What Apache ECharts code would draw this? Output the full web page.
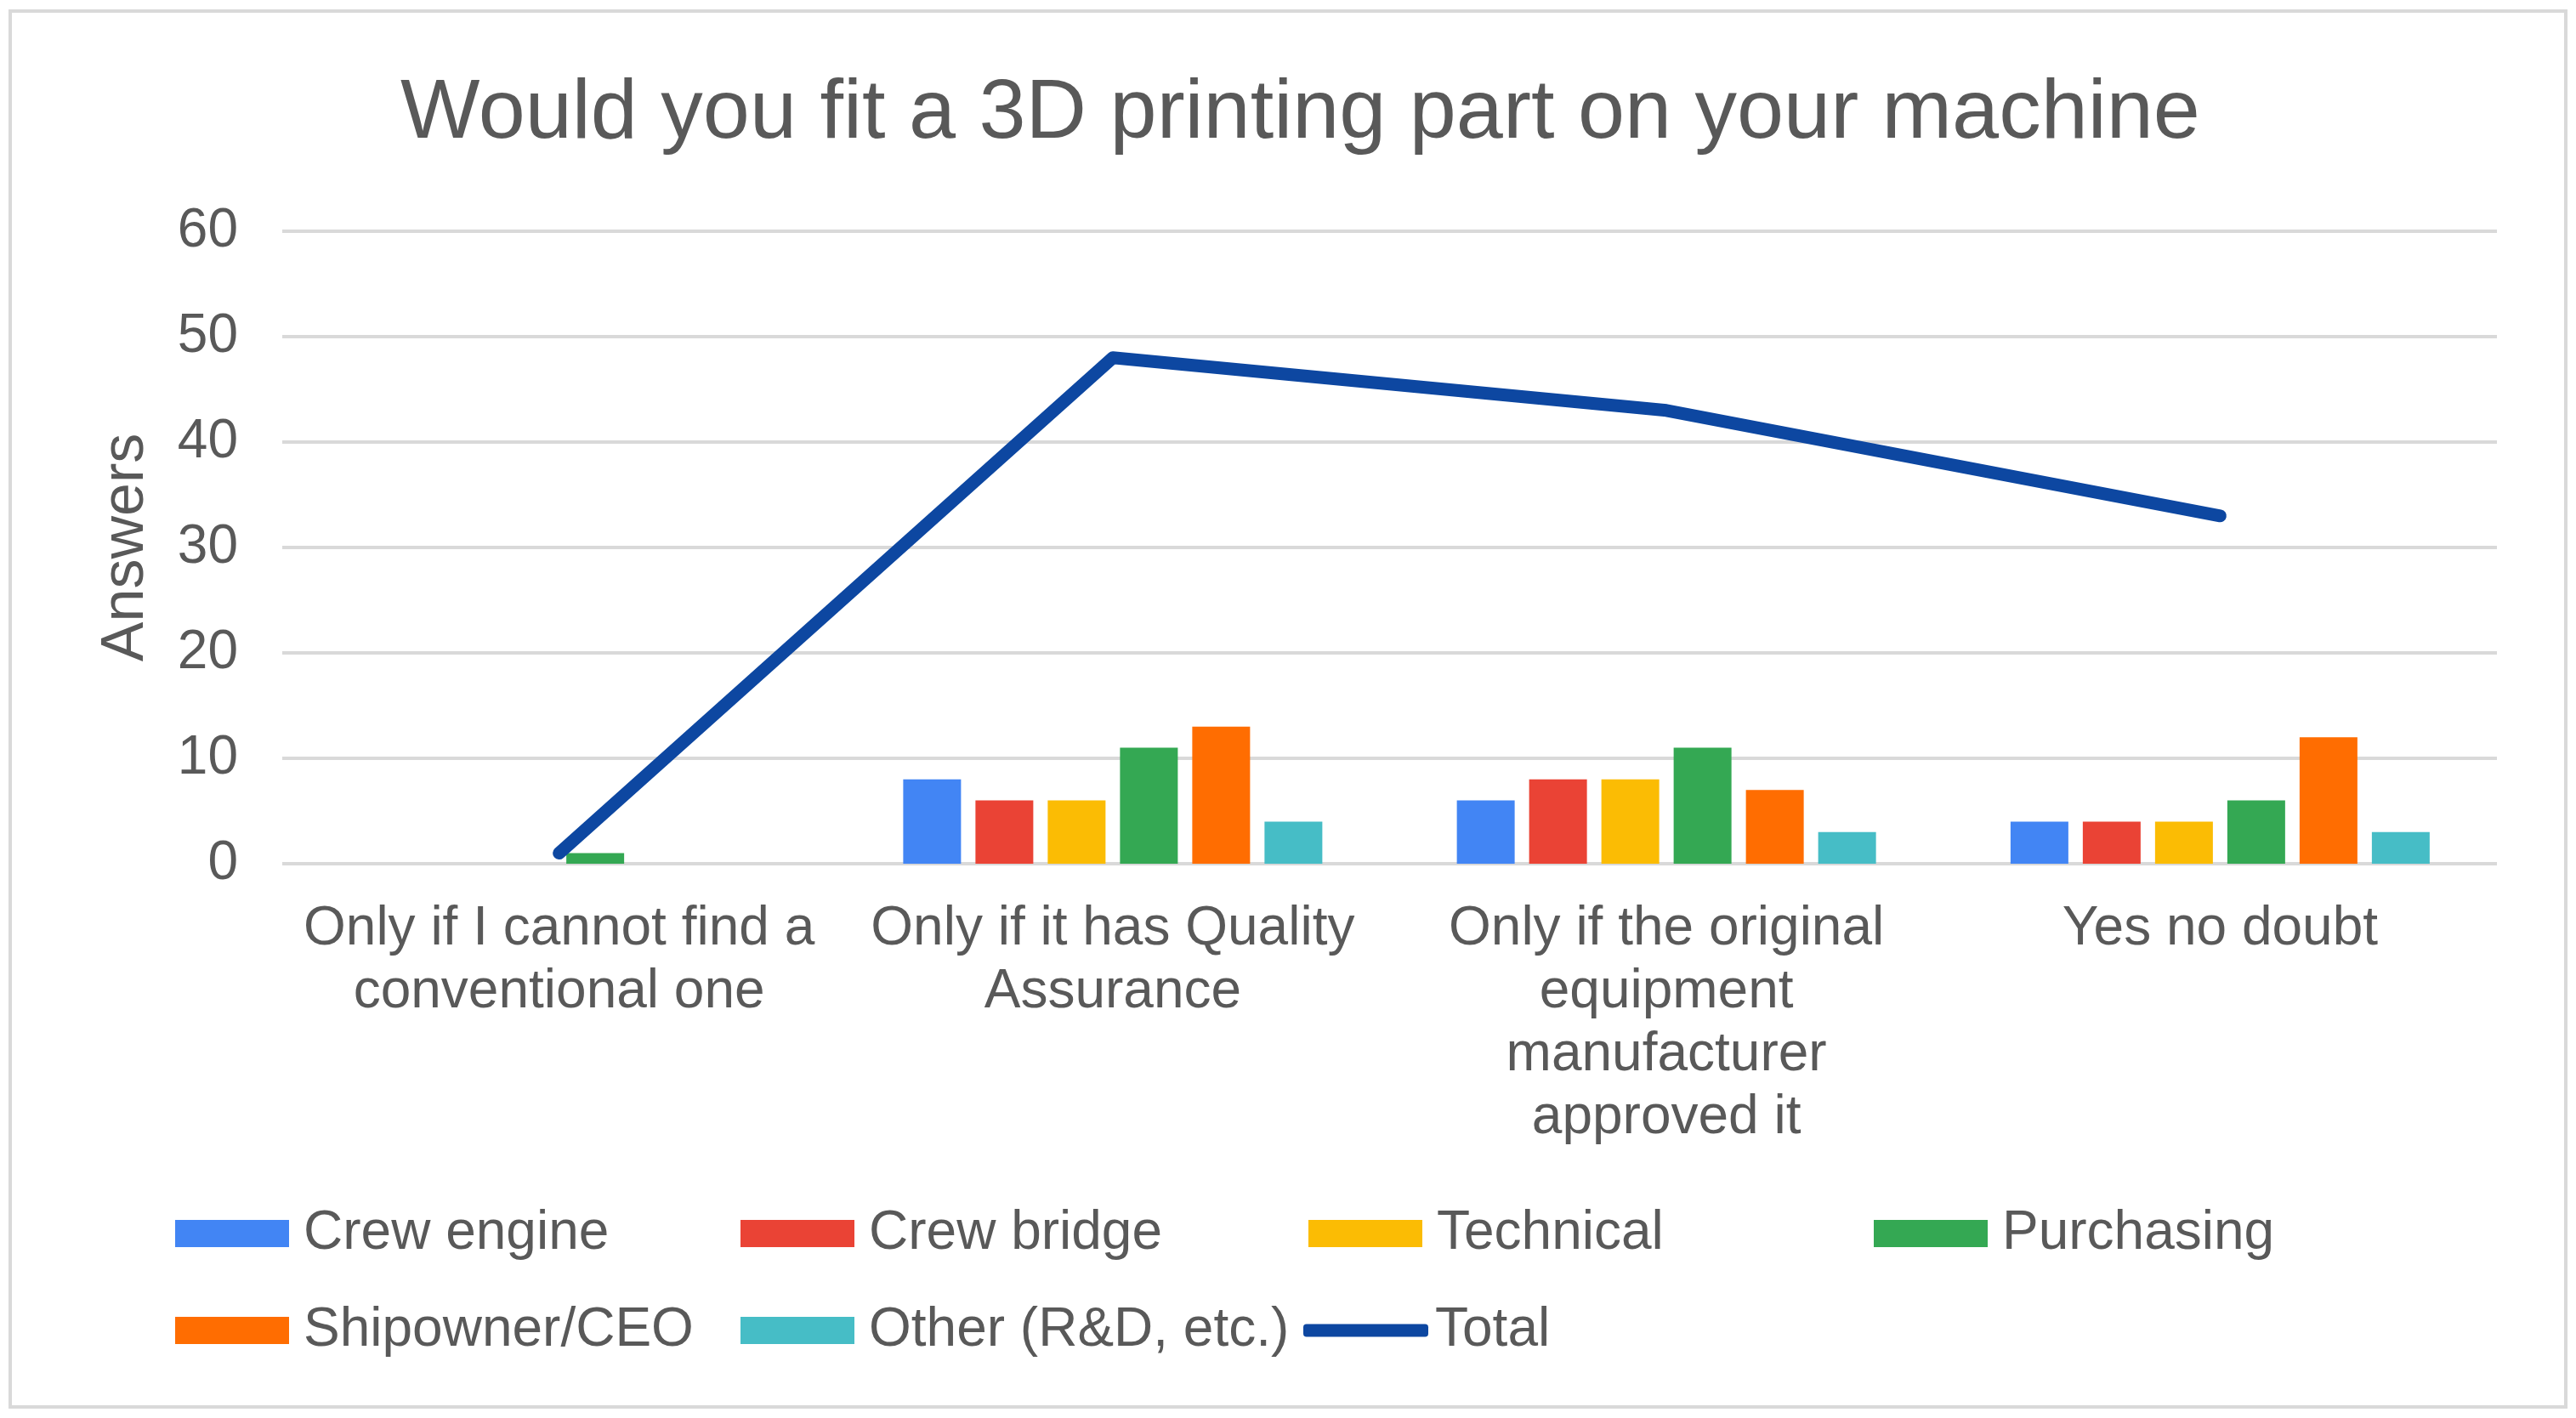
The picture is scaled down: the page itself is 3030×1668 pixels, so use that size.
<!DOCTYPE html>
<html>
<head>
<meta charset="utf-8">
<title>Would you fit a 3D printing part on your machine</title>
<script src="https://cdn.jsdelivr.net/npm/echarts@6/dist/echarts.min.js"></script>
<style>
  html, body { margin: 0; padding: 0; background: #fff; }
  #chart { width: 3030px; height: 1668px; }
</style>
</head>
<body>
<div id="chart"></div>
<script>
  // data
  var categories = [
    'Only if I cannot find a\nconventional one',
    'Only if it has Quality\nAssurance',
    'Only if the original\nequipment\nmanufacturer\napproved it',
    'Yes no doubt'
  ];
  var crewEngine = [0, 8, 6, 4];
  var crewBridge = [0, 6, 8, 4];
  var technical = [0, 6, 8, 4];
  var purchasing = [1, 11, 11, 6];
  var shipowner = [0, 13, 7, 12];
  var other = [0, 4, 3, 3];
  var total = [1, 48, 43, 33];
  var yTicks = [0, 10, 20, 30, 40, 50, 60];

  var font = '"Liberation Sans", Arial, sans-serif';
  var grey = '#595959';

  var barSeries = [
    { name: 'Crew engine', data: crewEngine, color: '#4285F4' },
    { name: 'Crew bridge', data: crewBridge, color: '#EA4335' },
    { name: 'Technical', data: technical, color: '#FBBC04' },
    { name: 'Purchasing', data: purchasing, color: '#34A853' },
    { name: 'Shipowner/CEO', data: shipowner, color: '#FF6D01' },
    { name: 'Other (R&D, etc.)', data: other, color: '#46BDC6' }
  ];

  var series = barSeries.map(function (s) {
    return {
      name: s.name,
      type: 'bar',
      data: s.data,
      barWidth: 68,
      barGap: '25%',
      itemStyle: { color: s.color },
      animation: false
    };
  });
  series.push({
    name: 'Total',
    type: 'line',
    data: total,
    symbol: 'none',
    lineStyle: { color: '#0D47A1', width: 15, cap: 'round', join: 'round' },
    itemStyle: { color: '#0D47A1' },
    animation: false
  });

  // one legend per item so each sits where it is in the picture
  var legendSpots = [
    { name: 'Crew engine', left: 206, top: 1416 },
    { name: 'Crew bridge', left: 871, top: 1416 },
    { name: 'Technical', left: 1539, top: 1416 },
    { name: 'Purchasing', left: 2204, top: 1416 },
    { name: 'Shipowner/CEO', left: 206, top: 1530 },
    { name: 'Other (R&D, etc.)', left: 871, top: 1530 },
    { name: 'Total', left: 1533, top: 1530 }
  ];
  var legends = legendSpots.map(function (l) {
    var isLine = l.name === 'Total';
    return {
      data: [l.name],
      left: l.left,
      top: l.top,
      padding: 0,
      itemWidth: isLine ? 147 : 134,
      itemHeight: isLine ? 15 : 32,
      icon: isLine ? 'roundRect' : 'rect',
      selectedMode: false,
      textStyle: {
        fontFamily: font,
        fontSize: 64,
        lineHeight: 70,
        color: grey,
        padding: [0, 0, 0, isLine ? 3 : 12]
      }
    };
  });

  var chart = echarts.init(document.getElementById('chart'));
  chart.setOption({
    backgroundColor: '#fff',
    animation: false,
    title: {
      text: 'Would you fit a 3D printing part on your machine',
      left: 466,
      top: 75,
      textStyle: {
        fontFamily: font,
        fontSize: 99,
        lineHeight: 110,
        fontWeight: 'normal',
        color: grey
      }
    },
    legend: legends,
    grid: {
      left: 332,
      right: 93,
      top: 272,
      bottom: 652,
      containLabel: false
    },
    xAxis: {
      type: 'category',
      data: categories,
      axisLine: { show: false },
      axisTick: { show: false },
      axisLabel: {
        interval: 0,
        margin: 40,
        fontFamily: font,
        fontSize: 64,
        lineHeight: 74,
        color: grey,
        verticalAlign: 'top'
      }
    },
    yAxis: {
      type: 'value',
      min: yTicks[0],
      max: yTicks[yTicks.length - 1],
      interval: 10,
      name: 'Answers',
      nameLocation: 'middle',
      nameGap: 148,
      nameTextStyle: {
        fontFamily: font,
        fontSize: 70,
        color: grey
      },
      axisLine: { show: false },
      axisTick: { show: false },
      axisLabel: {
        margin: 52,
        fontFamily: font,
        fontSize: 64,
        color: grey
      },
      splitLine: {
        show: true,
        lineStyle: { color: '#D9D9D9', width: 4 }
      }
    },
    graphic: [
      {
        type: 'rect',
        shape: { x: 12, y: 13, width: 3006, height: 1642 },
        style: { fill: 'none', stroke: '#D9D9D9', lineWidth: 4 },
        silent: true
      }
    ],
    series: series
  });
</script>
</body>
</html>
